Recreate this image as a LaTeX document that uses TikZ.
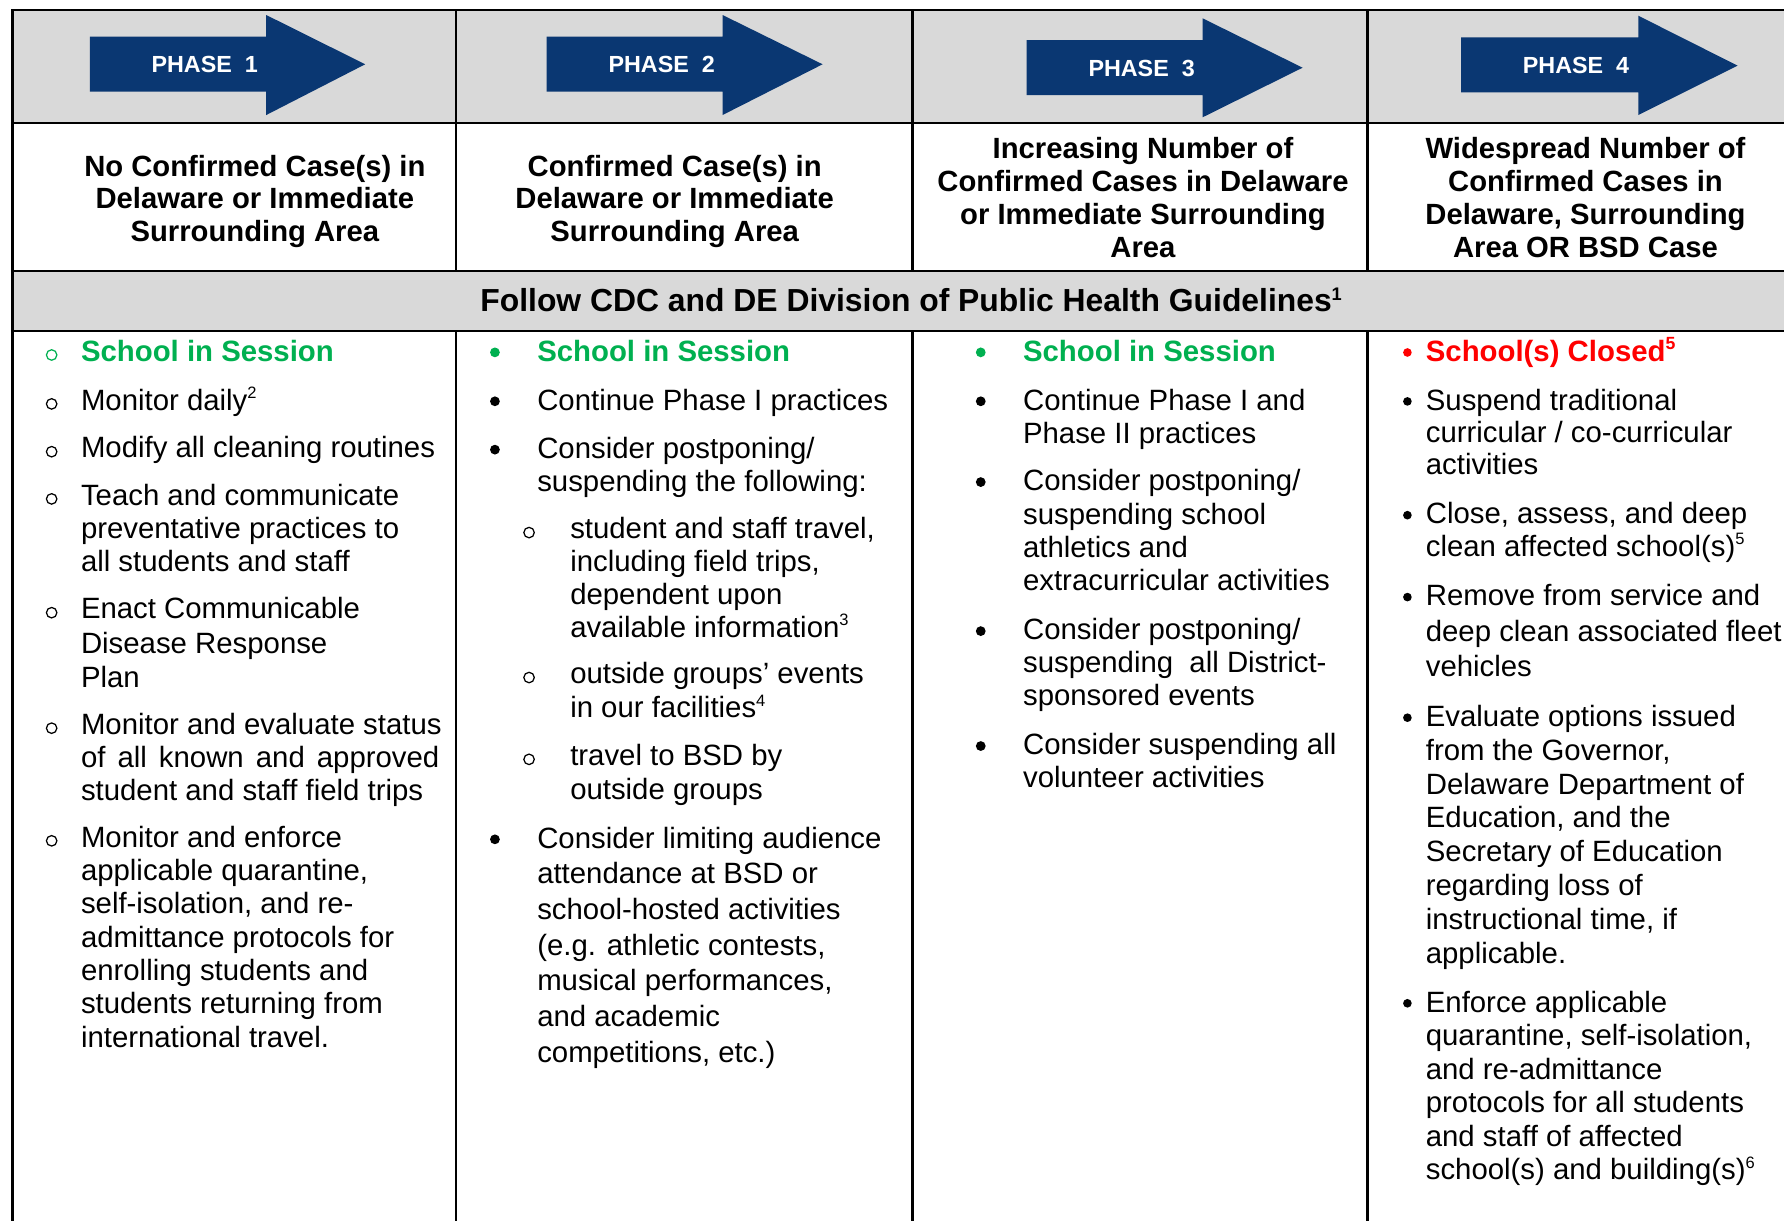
\documentclass[tikz,border=0pt]{standalone}
\usepackage{fontspec}
\setmainfont{Liberation Sans}
\definecolor{navy}{RGB}{10,55,114}
\definecolor{hdrgray}{RGB}{217,217,217}
\definecolor{sgreen}{RGB}{0,176,80}
\definecolor{sred}{RGB}{255,0,0}
\newcommand\supx[1]{\raisebox{10pt}{\fontsize{14.5}{14.5}\selectfont #1}}
\newcommand\txtlines[6]{%
  \foreach \t [count=\i from 0] in {#6}{\node[#1] (#2-\i) at (#3,{#4+\i*#5}) {\t};}}
\begin{document}
\begin{tikzpicture}[x=1pt,y=-1pt,
  txt/.style={anchor=base west, inner sep=0pt, font=\fontsize{25.8}{30}\selectfont},
  grn/.style={anchor=base west, inner sep=0pt, text=sgreen, font=\bfseries\fontsize{25.8}{30}\selectfont},
  redt/.style={anchor=base west, inner sep=0pt, text=sred, font=\bfseries\fontsize{25.8}{30}\selectfont},
  hdr/.style={anchor=base, inner sep=0pt, font=\bfseries\fontsize{25.7}{30}\selectfont},
  phaselbl/.style={anchor=base west, inner sep=0pt, text=white, font=\bfseries\fontsize{20.5}{24}\selectfont},
  rule/.style={line width=2.2pt, black},
  ocirc/.style={line width=1.1pt},
  arrowfill/.style={fill=navy}
]
\useasboundingbox (0,0) rectangle (1568,1073);
% backgrounds
\fill[hdrgray] (11,9) rectangle (1568,108);
\fill[hdrgray] (11,238) rectangle (1568,291);
% arrows
\fill[arrowfill] (79,32.2) -- (234,32.2) -- (234,13.2) -- (321,56.5) -- (234,101.1) -- (234,80.6) -- (79,80.6) -- cycle;
\fill[arrowfill] (480.5,32.2) -- (635.1,32.2) -- (635.1,13.2) -- (723,56.5) -- (635.1,101.1) -- (635.1,80.6) -- (480.5,80.6) -- cycle;
\fill[arrowfill] (902.3,35.2) -- (1057,35.2) -- (1057,16.1) -- (1144.9,59.5) -- (1057,103.1) -- (1057,83.5) -- (902.3,83.5) -- cycle;
\fill[arrowfill] (1284.3,32.8) -- (1439.9,32.8) -- (1439.9,13.8) -- (1527.2,57.7) -- (1439.9,101.1) -- (1439.9,81.1) -- (1284.3,81.1) -- cycle;
\node[phaselbl] (ph1) at (133,63.5) {PHASE\ \ 1};
\node[phaselbl] (ph2) at (534.7,63.5) {PHASE\ \ 2};
\node[phaselbl] (ph3) at (956.5,67) {PHASE\ \ 3};
\node[phaselbl] (ph4) at (1338.3,64.2) {PHASE\ \ 4};
% rules
\draw[rule] (1568,9) -- (11,9) -- (11,1073);
\draw[rule] (11,108) -- (1568,108);
\draw[rule] (11,238) -- (1568,238);
\draw[rule] (11,291) -- (1568,291);
\foreach \xx in {401,802,1202}{
  \draw[rule] (\xx,9) -- (\xx,238);
  \draw[rule] (\xx,291) -- (\xx,1073);
}
% header texts
\txtlines{hdr}{h1}{224}{155}{28.5}{{No Confirmed Case(s) in},{Delaware or Immediate},{Surrounding Area}}
\txtlines{hdr}{h2}{593}{155}{28.5}{{Confirmed Case(s) in},{Delaware or Immediate},{Surrounding Area}}
\txtlines{hdr}{h3}{1004.6}{139.5}{28.8}{{Increasing Number of},{Confirmed Cases in Delaware},{or Immediate Surrounding},{Area}}
\txtlines{hdr}{h4}{1393.5}{139.5}{28.8}{{Widespread Number of},{Confirmed Cases in},{Delaware, Surrounding},{Area OR BSD Case}}
\node[anchor=base west, inner sep=0pt, font=\bfseries\fontsize{28}{32}\selectfont] (follow) at (422,274) {Follow CDC and DE Division of Public Health Guidelines\raisebox{10pt}{\fontsize{16}{16}\selectfont 1}};
% ---------- column 1
\foreach \yy/\cc in {317/sgreen,360/black,402/black,443.5/black,543.5/black,645/black,744/black}{
  \draw[ocirc,\cc] (45.4,{\yy-5}) circle[radius=4.6pt];
}
\node[grn] (c1a) at (71,317.5) {School in Session};
\node[txt] (c1b) at (71,360.5) {Monitor daily\supx{2}};
\node[txt] (c1c) at (71,402.5) {Modify all cleaning routines};
\txtlines{txt}{c1d}{71}{444}{29.2}{{Teach and communicate},{preventative practices to},{all students and staff}}
\txtlines{txt}{c1e}{71}{544}{30}{{Enact Communicable},{Disease Response},{Plan}}
\txtlines{txt}{c1f}{71}{645.5}{29}{{Monitor and evaluate status},{\makebox[315pt][s]{of all known and approved}},{student and staff field trips}}
\txtlines{txt}{c1g}{71}{744.5}{29.33}{{Monitor and enforce},{applicable quarantine,},{self-isolation, and re-},{admittance protocols for},{enrolling students and},{students returning from},{international travel.}}
% ---------- column 2
\foreach \yy/\cc in {317/sgreen,360/black,402.5/black,745/black}{
  \fill[\cc] (435,{\yy-7.3}) circle[radius=4.3pt];
}
\foreach \yy in {473.1,600.5,672.4}{
  \draw[ocirc] (465,{\yy-5}) circle[radius=4.6pt];
}
\node[grn] (c2a) at (472,317.5) {School in Session};
\node[txt] (c2b) at (472,360.5) {Continue Phase I practices};
\txtlines{txt}{c2c}{472}{403}{28.7}{{Consider postponing/},{suspending the following:}}
\txtlines{txt}{c2d}{501}{473.6}{28.8}{{student and staff travel,},{including field trips,},{dependent upon},{available information\supx{3}}}
\txtlines{txt}{c2e}{501}{601}{29.7}{{outside groups’ events},{in our facilities\supx{4}}}
\txtlines{txt}{c2f}{501}{673}{29.6}{{travel to BSD by},{outside groups}}
\txtlines{txt}{c2g}{472}{745.5}{31.33}{{Consider limiting audience},{attendance at BSD or},{school-hosted activities},{(e.g. athletic contests,},{musical performances,},{and academic},{competitions, etc.)}}
% ---------- column 3
\foreach \yy/\cc in {317/sgreen,360/black,431/black,562/black,663/black}{
  \fill[\cc] (862,{\yy-7.3}) circle[radius=4.3pt];
}
\node[grn] (c3a) at (899,317.5) {School in Session};
\txtlines{txt}{c3b}{899}{360.5}{29}{{Continue Phase I and},{Phase II practices}}
\txtlines{txt}{c3c}{899}{431.5}{29.3}{{Consider postponing/},{suspending school},{athletics and},{extracurricular activities}}
\txtlines{txt}{c3d}{899}{562.5}{29}{{Consider postponing/},{suspending\ \ all District-},{sponsored events}}
\txtlines{txt}{c3e}{899}{663.5}{29}{{Consider suspending all},{volunteer activities}}
% ---------- column 4
\foreach \yy/\cc in {317/sred,360/black,460/black,532/black,638/black,889/black}{
  \fill[\cc] (1237,{\yy-7.2}) circle[radius=3.8pt];
}
\node[redt] (c4a) at (1253,317.5) {School(s) Closed\raisebox{10pt}{\fontsize{15.5}{15.5}\selectfont 5}};
\txtlines{txt}{c4b}{1253}{360.5}{28.2}{{Suspend traditional},{curricular / co-curricular},{activities}}
\txtlines{txt}{c4c}{1253}{460.5}{28.5}{{Close, assess, and deep},{clean affected school(s)\supx{5}}}
\txtlines{txt}{c4d}{1253}{532.5}{31}{{Remove from service and},{deep clean associated fleet},{vehicles}}
\txtlines{txt}{c4e}{1253}{638.5}{29.7}{{Evaluate options issued},{from the Governor,},{Delaware Department of},{Education, and the},{Secretary of Education},{regarding loss of},{instructional time, if},{applicable.}}
\txtlines{txt}{c4f}{1253}{889.5}{29.5}{{Enforce applicable},{quarantine, self-isolation,},{and re-admittance},{protocols for all students},{and staff of affected},{school(s) and building(s)\supx{6}}}
\end{tikzpicture}
\end{document}
